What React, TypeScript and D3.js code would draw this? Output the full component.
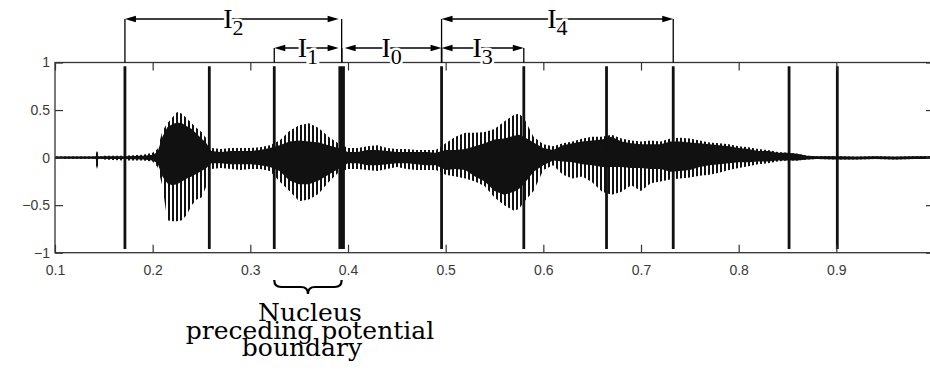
import * as d3 from 'd3'
import { useEffect, useRef } from 'react'

// sample times (s) of the waveform envelope
const sampleTimes = [
  0.1, 0.12, 0.14, 0.143, 0.146, 0.15, 0.17, 0.19, 0.2, 0.205,
  0.21, 0.215, 0.22, 0.225, 0.23, 0.235, 0.24, 0.245, 0.25, 0.255,
  0.26, 0.27, 0.28, 0.29, 0.3, 0.31, 0.32, 0.33, 0.34, 0.35,
  0.36, 0.37, 0.38, 0.39, 0.4, 0.41, 0.42, 0.43, 0.44, 0.45,
  0.46, 0.47, 0.48, 0.49, 0.5, 0.51, 0.52, 0.53, 0.54, 0.55,
  0.56, 0.57, 0.575, 0.58, 0.59, 0.6, 0.61, 0.62, 0.63, 0.64,
  0.65, 0.66, 0.67, 0.68, 0.69, 0.7, 0.71, 0.72, 0.73, 0.74,
  0.75, 0.76, 0.77, 0.78, 0.79, 0.8, 0.81, 0.82, 0.83, 0.84,
  0.85, 0.86, 0.87, 0.88, 0.9, 0.92, 0.94, 0.96, 0.98, 1.0,
]
// dense (solid) part of the signal
const coreHigh = [
  0.012, 0.012, 0.012, 0.02, 0.012, 0.015, 0.015, 0.02, 0.03, 0.06,
  0.22, 0.32, 0.35, 0.37, 0.36, 0.33, 0.3, 0.25, 0.2, 0.15,
  0.07, 0.06, 0.07, 0.07, 0.07, 0.08, 0.1, 0.13, 0.17, 0.18,
  0.17, 0.16, 0.13, 0.1, 0.06, 0.06, 0.08, 0.08, 0.07, 0.06,
  0.06, 0.06, 0.06, 0.05, 0.08, 0.08, 0.09, 0.12, 0.15, 0.19,
  0.2, 0.23, 0.24, 0.22, 0.16, 0.1, 0.08, 0.13, 0.15, 0.17,
  0.18, 0.19, 0.22, 0.17, 0.15, 0.14, 0.14, 0.14, 0.17, 0.17,
  0.16, 0.15, 0.14, 0.13, 0.12, 0.1, 0.09, 0.07, 0.07, 0.05,
  0.05, 0.04, 0.02, 0.015, 0.015, 0.01, 0.015, 0.01, 0.015, 0.015,
]
const coreLow = [
  -0.012, -0.012, -0.012, -0.02, -0.012, -0.015, -0.015, -0.02, -0.03, -0.06,
  -0.2, -0.27, -0.29, -0.28, -0.25, -0.22, -0.2, -0.17, -0.14, -0.11,
  -0.06, -0.06, -0.07, -0.07, -0.07, -0.08, -0.1, -0.14, -0.24, -0.28,
  -0.28, -0.24, -0.18, -0.12, -0.06, -0.06, -0.08, -0.08, -0.07, -0.06,
  -0.06, -0.07, -0.08, -0.08, -0.13, -0.12, -0.13, -0.2, -0.25, -0.35,
  -0.39, -0.36, -0.33, -0.28, -0.15, -0.08, -0.03, -0.04, -0.05, -0.07,
  -0.08, -0.1, -0.1, -0.1, -0.11, -0.11, -0.12, -0.12, -0.15, -0.14,
  -0.13, -0.1, -0.08, -0.07, -0.06, -0.05, -0.05, -0.04, -0.04, -0.03,
  -0.03, -0.03, -0.02, -0.015, -0.02, -0.02, -0.015, -0.02, -0.015, -0.015,
]
// tips of the pitch-period spikes
const spikeHigh = [
  0.012, 0.012, 0.012, 0.07, 0.012, 0.02, 0.02, 0.03, 0.05, 0.09,
  0.28, 0.36, 0.42, 0.48, 0.46, 0.41, 0.36, 0.31, 0.27, 0.2,
  0.1, 0.09, 0.1, 0.1, 0.1, 0.11, 0.13, 0.18, 0.28, 0.34,
  0.36, 0.31, 0.22, 0.15, 0.1, 0.1, 0.12, 0.13, 0.1, 0.09,
  0.09, 0.08, 0.08, 0.08, 0.15, 0.22, 0.26, 0.26, 0.27, 0.3,
  0.38, 0.45, 0.46, 0.42, 0.22, 0.14, 0.12, 0.15, 0.17, 0.2,
  0.22, 0.22, 0.24, 0.2, 0.18, 0.17, 0.18, 0.17, 0.2, 0.21,
  0.2, 0.18, 0.16, 0.15, 0.14, 0.12, 0.11, 0.09, 0.08, 0.06,
  0.05, 0.04, 0.02, 0.015, 0.015, 0.01, 0.015, 0.01, 0.015, 0.015,
]
const spikeLow = [
  -0.012, -0.012, -0.012, -0.12, -0.012, -0.02, -0.03, -0.03, -0.04, -0.1,
  -0.3, -0.66, -0.67, -0.67, -0.66, -0.6, -0.5, -0.44, -0.42, -0.3,
  -0.12, -0.11, -0.12, -0.13, -0.12, -0.12, -0.14, -0.25, -0.35, -0.46,
  -0.44, -0.38, -0.26, -0.16, -0.12, -0.12, -0.13, -0.14, -0.12, -0.1,
  -0.12, -0.13, -0.13, -0.13, -0.18, -0.2, -0.22, -0.25, -0.3, -0.42,
  -0.5, -0.56, -0.54, -0.47, -0.35, -0.13, -0.08, -0.18, -0.22, -0.2,
  -0.26, -0.36, -0.39, -0.36, -0.29, -0.35, -0.27, -0.25, -0.23, -0.22,
  -0.21, -0.19, -0.18, -0.16, -0.13, -0.11, -0.09, -0.07, -0.06, -0.04,
  -0.03, -0.03, -0.02, -0.015, -0.02, -0.02, -0.015, -0.02, -0.015, -0.015,
]

// segmentation marks (s); the 4th one is the potential boundary
const markTimes = [0.1716, 0.258, 0.3245, 0.3935, 0.4958, 0.58, 0.6647, 0.733, 0.8516, 0.901]
const boundaryIndex = 3

// intervals between marks: label subscript, from mark, to mark, row
const intervalSubs = ['2', '1', '0', '3', '4']
const intervalFrom = [0, 2, 3, 4, 4]
const intervalTo = [3, 3, 4, 5, 7]
const intervalRow = [0, 1, 1, 1, 0]

const xTicks = [0.1, 0.2, 0.3, 0.4, 0.5, 0.6, 0.7, 0.8, 0.9, 1.0]
const yTicks = [-1, -0.5, 0, 0.5, 1]
const noteLines = ['Nucleus', 'preceding potential', 'boundary']

const width = 930
const height = 375
const left = 55
const right = 934
const top = 62.5
const bottom = 252.7

export default function App() {
  const x = d3.scaleLinear([0.1, 1.0], [left, right])
  const y = d3.scaleLinear([-1, 1], [bottom, top])

  const gx = useRef<SVGGElement>(null)
  const gxTop = useRef<SVGGElement>(null)
  const gy = useRef<SVGGElement>(null)
  const gyRight = useRef<SVGGElement>(null)

  useEffect(() => {
    const fmt = (d: d3.NumberValue) => String(+(+d).toFixed(1))
    const style = (g: d3.Selection<SVGGElement, unknown, null, undefined>) => {
      g.select('.domain').remove()
      g.selectAll('line').attr('stroke', '#333').attr('stroke-width', 1.2)
      g.selectAll('text')
        .attr('fill', '#3a3a3a')
        .attr('font-family', 'Liberation Sans, Arial, sans-serif')
        .attr('font-size', 14)
    }
    d3.select(gx.current!)
      .call(d3.axisBottom(x).tickValues(xTicks).tickSizeInner(-8).tickSizeOuter(0).tickPadding(12).tickFormat(fmt))
      .call(style)
    d3.select(gxTop.current!)
      .call(d3.axisTop(x).tickValues(xTicks).tickSizeInner(-8).tickSizeOuter(0).tickFormat(() => ''))
      .call(style)
    d3.select(gy.current!)
      .call(d3.axisLeft(y).tickValues(yTicks).tickSizeInner(-8).tickSizeOuter(0).tickPadding(5).tickFormat(d3.format('')))
      .call(style)
    d3.select(gyRight.current!)
      .call(d3.axisRight(y).tickValues(yTicks).tickSizeInner(-8).tickSizeOuter(0).tickFormat(() => ''))
      .call(style)
  }, [])

  const idx = sampleTimes.map((_, i) => i)
  const core = d3.area<number>()
    .x((i) => x(sampleTimes[i]))
    .y0((i) => y(coreLow[i]))
    .y1((i) => y(coreHigh[i]))
  const spikes = d3.area<number>()
    .x((i) => x(sampleTimes[i]))
    .y0((i) => y(spikeLow[i]))
    .y1((i) => y(spikeHigh[i]))

  const rowY = [19, 48]

  // brace under the nucleus
  const bx0 = x(markTimes[2])
  const bx1 = x(markTimes[boundaryIndex])
  const bm = (bx0 + bx1) / 2
  const by = 280
  const bh = 14
  const r = 7
  const brace = `M${bx0},${by} Q${bx0},${by + bh / 2} ${bx0 + r},${by + bh / 2} L${bm - r},${by + bh / 2} Q${bm},${by + bh / 2} ${bm},${by + bh} Q${bm},${by + bh / 2} ${bm + r},${by + bh / 2} L${bx1 - r},${by + bh / 2} Q${bx1},${by + bh / 2} ${bx1},${by}`

  return (
    <svg width={width} height={height} style={{ position: 'absolute', left: 0, top: 0, background: '#fff' }}>
      <defs>
        <pattern id="pulses" patternUnits="userSpaceOnUse" width={4} height={20}>
          <rect x={0} y={0} width={2} height={20} fill="#111" />
        </pattern>
        <clipPath id="plot">
          <rect x={left} y={top} width={right - left} height={bottom - top} />
        </clipPath>
      </defs>

      <g clipPath="url(#plot)">
        <path d={spikes(idx) as string} fill="url(#pulses)" />
        <path d={core(idx) as string} fill="#111" />
        <line x1={left} x2={right} y1={y(0)} y2={y(0)} stroke="#111" strokeWidth={1.5} />
        {markTimes.map((t, i) => (
          <line
            key={i}
            x1={x(t)}
            x2={x(t)}
            y1={y(0.96)}
            y2={y(-0.96)}
            stroke="#111"
            strokeWidth={i === boundaryIndex ? 6.5 : 2.8}
          />
        ))}
      </g>

      <rect x={left} y={top} width={right - left} height={bottom - top} fill="none" stroke="#333" strokeWidth={1.3} />
      <g ref={gx} transform={`translate(0,${bottom})`} />
      <g ref={gxTop} transform={`translate(0,${top})`} />
      <g ref={gy} transform={`translate(${left},0)`} />
      <g ref={gyRight} transform={`translate(${right},0)`} />

      {intervalSubs.map((sub, k) => {
        const x0 = x(markTimes[intervalFrom[k]])
        const x1 = x(markTimes[intervalTo[k]])
        const yy = rowY[intervalRow[k]]
        const a0 = intervalFrom[k] === boundaryIndex ? x0 + 3 : x0
        const a1 = intervalTo[k] === boundaryIndex ? x1 - 3 : x1
        const ah = 11
        const aw = 3.2
        return (
          <g key={k}>
            <line x1={x0} x2={x0} y1={yy} y2={top} stroke="#000" strokeWidth={1.3} />
            <line x1={x1} x2={x1} y1={yy} y2={top} stroke="#000" strokeWidth={1.3} />
            <line x1={a0 + 4} x2={a1 - 4} y1={yy} y2={yy} stroke="#000" strokeWidth={1.3} />
            <path d={`M${a0},${yy} L${a0 + ah},${yy - aw} L${a0 + ah},${yy + aw} Z`} fill="#000" />
            <path d={`M${a1},${yy} L${a1 - ah},${yy - aw} L${a1 - ah},${yy + aw} Z`} fill="#000" />
            <text
              x={(x0 + x1) / 2}
              y={yy + 9}
              textAnchor="middle"
              fontFamily="Liberation Serif, Times New Roman, serif"
              fontSize={28}
              fill="#000"
              stroke="#fff"
              strokeWidth={5}
              paintOrder="stroke"
            >
              I
              <tspan fontSize={22} dy={7}>{sub}</tspan>
            </text>
          </g>
        )
      })}

      <path d={brace} fill="none" stroke="#000" strokeWidth={2.2} />
      <g fontFamily="DejaVu Serif, serif" fontSize={25} fill="#000" textAnchor="middle">
        {noteLines.map((s, i) => (
          <text key={i} x={bm + (i === 2 ? -6 : 2)} y={321 + i * 17.5}>
            {s}
          </text>
        ))}
      </g>
    </svg>
  )
}
